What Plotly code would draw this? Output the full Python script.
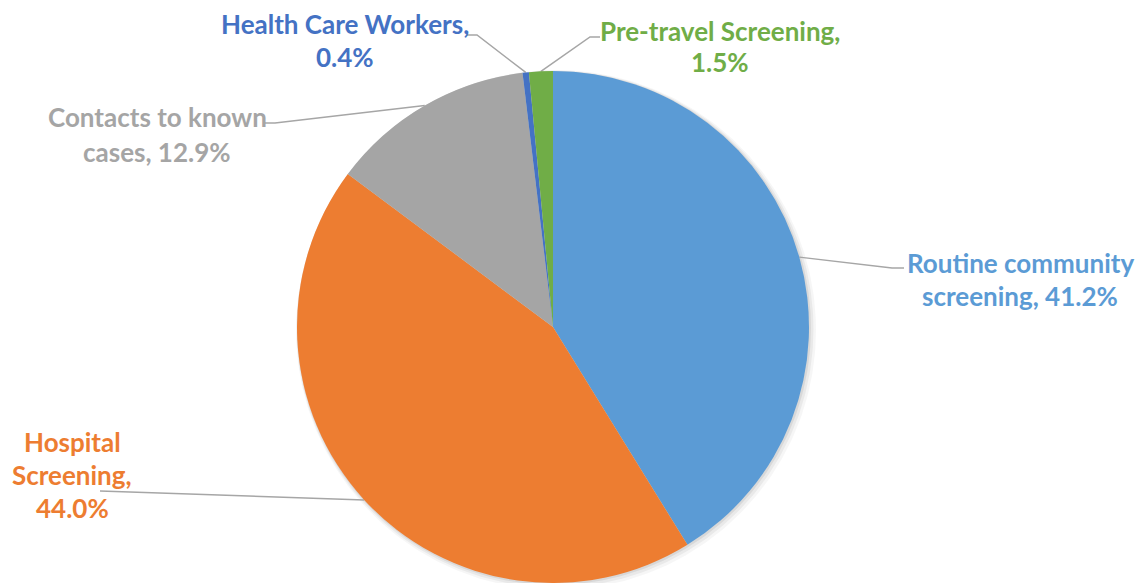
import numpy as np
import plotly.graph_objects as go

# ---- data ----
categories = ["Routine community screening", "Hospital Screening",
              "Contacts to known cases", "Health Care Workers", "Pre-travel Screening"]
values = [41.2, 44.0, 12.9, 0.4, 1.5]
colors = ["#5B9BD5", "#ED7D31", "#A5A5A5", "#4472C4", "#70AD47"]
label_lines = [
    ["Routine community", "screening, 41.2%"],
    ["Hospital", "Screening,", "44.0%"],
    ["Contacts to known", "cases, 12.9%"],
    ["Health Care Workers,", "0.4%"],
    ["Pre-travel Screening,", "1.5%"],
]

# ---- layout geometry (pixels) ----
W, H = 1138, 583
top = 71
R = (H - top) / 2
cx = 553
cy = top + R
dom_x = [0, 2 * cx / W]
dom_y = [0, (H - top) / H]

# label text anchors: (center x, first line y, line step)
label_pos = [(1020, 263, 33), (72, 442, 33), (157, 117, 35), (345, 24, 33), (720, 31, 31)]
# leader elbow and end points
leader_pts = [
    [(892, 268), (904, 268)],
    [(100, 491)],
    [(275, 123), (263, 123)],
    [(477, 35), (467, 35)],
    [(590, 37), (600, 37)],
]

fig = go.Figure()

# soft drop shadow behind the pie
th = np.linspace(0, 2 * np.pi, 361)
for dr, off, a in [(4, 3, 0.035), (2.5, 2, 0.05), (1, 1, 0.07)]:
    fig.add_trace(go.Scatter(
        x=cx + off + (R + dr) * np.cos(th), y=cy + off + (R + dr) * np.sin(th),
        mode="lines", line=dict(width=0), fill="toself",
        fillcolor="rgba(0,0,0,%s)" % a, hoverinfo="skip", showlegend=False))

# leader lines computed from slice mid-angles
cum = np.cumsum([0] + values)
total = cum[-1]
for i, v in enumerate(values):
    mid = (cum[i] + v / 2) / total * 2 * np.pi
    ex = cx + R * np.sin(mid)
    ey = cy - R * np.cos(mid)
    xs = [ex] + [p[0] for p in leader_pts[i]]
    ys = [ey] + [p[1] for p in leader_pts[i]]
    fig.add_trace(go.Scatter(x=xs, y=ys, mode="lines",
                             line=dict(color="#A6A6A6", width=1.5),
                             hoverinfo="skip", showlegend=False))

fig.add_trace(go.Pie(
    labels=categories, values=values, sort=False, direction="clockwise",
    rotation=0, marker=dict(colors=colors, line=dict(width=0)),
    textinfo="none", hole=0, showlegend=False,
    domain=dict(x=dom_x, y=dom_y),
))

annotations = []
for i, lines in enumerate(label_lines):
    x0, y0, step = label_pos[i]
    for j, t in enumerate(lines):
        annotations.append(dict(
            x=x0, y=y0 + j * step, xref="x", yref="y", text="<b>%s</b>" % t,
            showarrow=False, xanchor="center", yanchor="middle",
            font=dict(family="Lato", size=26, color=colors[i])))

fig.update_layout(
    width=W, height=H, margin=dict(l=0, r=0, t=0, b=0),
    paper_bgcolor="white", plot_bgcolor="white",
    xaxis=dict(range=[0, W], visible=False, fixedrange=True),
    yaxis=dict(range=[H, 0], visible=False, fixedrange=True),
    annotations=annotations,
)

fig.write_html("out.html", config={"displayModeBar": False},
               post_script="document.body.style.margin='0';")
